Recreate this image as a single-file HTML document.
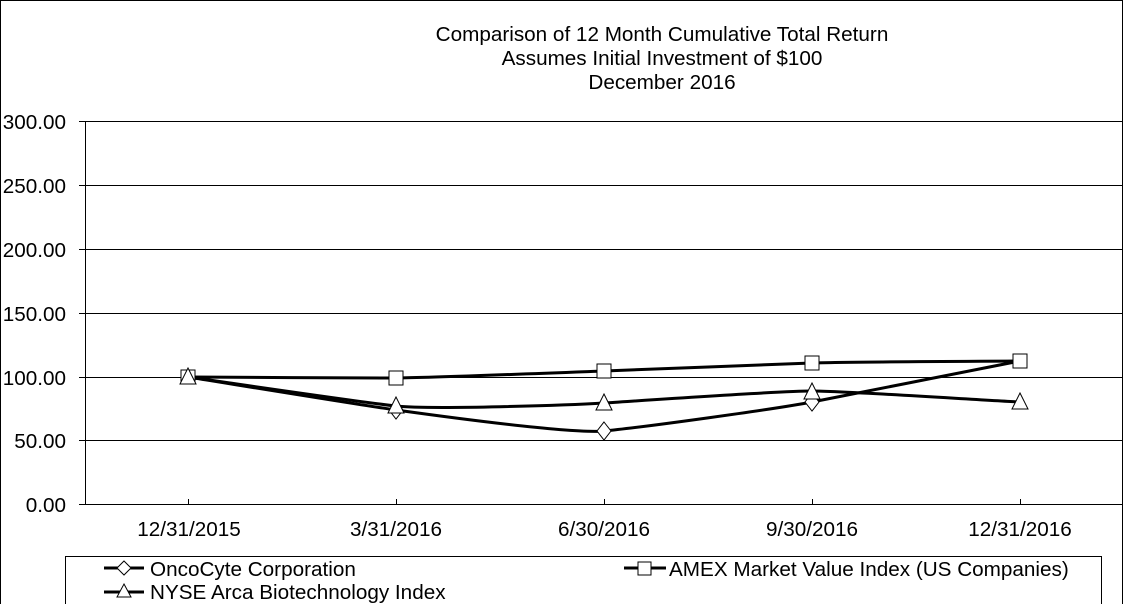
<!DOCTYPE html>
<html><head><meta charset="utf-8"><style>
body{margin:0;background:#fff}
svg{display:block;font-family:"Liberation Sans",Arial,sans-serif}
</style></head><body>
<svg width="1125" height="604" viewBox="0 0 1125 604" xmlns="http://www.w3.org/2000/svg">
<rect x="0.5" y="0.5" width="1122" height="610" fill="#fff" stroke="#000" stroke-width="1"/>
<g font-size="20.7" text-anchor="middle" fill="#000">
<text x="662" y="41">Comparison of 12 Month Cumulative Total Return</text>
<text x="662" y="65">Assumes Initial Investment of $100</text>
<text x="662" y="89">December 2016</text>
</g>
<g stroke="#000" stroke-width="1">
<line x1="79" y1="121.5" x2="1122" y2="121.5"/>
<line x1="79" y1="185.5" x2="1122" y2="185.5"/>
<line x1="79" y1="249.5" x2="1122" y2="249.5"/>
<line x1="79" y1="313.5" x2="1122" y2="313.5"/>
<line x1="79" y1="377.5" x2="1122" y2="377.5"/>
<line x1="79" y1="440.5" x2="1122" y2="440.5"/>
<line x1="79" y1="504.5" x2="1122" y2="504.5"/>
<line x1="85.5" y1="121" x2="85.5" y2="504"/>
<line x1="188.5" y1="499" x2="188.5" y2="504"/>
<line x1="396.5" y1="499" x2="396.5" y2="504"/>
<line x1="604.5" y1="499" x2="604.5" y2="504"/>
<line x1="812.5" y1="499" x2="812.5" y2="504"/>
<line x1="1020.5" y1="499" x2="1020.5" y2="504"/>
</g>
<g font-size="20.7" text-anchor="end">
<text x="66" y="129">300.00</text>
<text x="66" y="193">250.00</text>
<text x="66" y="257">200.00</text>
<text x="66" y="321">150.00</text>
<text x="66" y="385">100.00</text>
<text x="66" y="448">50.00</text>
<text x="66" y="512">0.00</text>
</g>
<g font-size="20.7" text-anchor="middle">
<text x="189" y="536">12/31/2015</text>
<text x="396" y="536">3/31/2016</text>
<text x="604" y="536">6/30/2016</text>
<text x="812" y="536">9/30/2016</text>
<text x="1020" y="536">12/31/2016</text>
</g>
<g fill="none" stroke="#000" stroke-width="3">
<path d="M188,377 C222.7,377 361.3,378.3 396,378 C430.7,377.7 569.3,372.3 604,371 C638.7,369.7 777.3,364.3 812,363 C846.7,361.7 985.3,361.3 1020,361"/>
<path d="M188,377 C222.7,381.8 361.3,402.3 396,406 C430.7,409.7 569.3,405.2 604,403 C638.7,400.8 777.3,391 812,391 C846.7,391 985.3,400.5 1020,402"/>
<path d="M188,377 C222.7,382.5 361.3,405.2 396,410 C430.7,414.8 569.3,434.2 604,431 C638.7,427.8 777.3,408.8 812,402 C846.7,395.2 985.3,367.8 1020,361"/>
</g>
<g fill="#fff" stroke="#000" stroke-width="1">
<rect x="181" y="370" width="14" height="14"/>
<rect x="389" y="371" width="14" height="14"/>
<rect x="597" y="364" width="14" height="14"/>
<rect x="805" y="356" width="14" height="14"/>
<rect x="1013" y="354" width="14" height="14"/>
<polygon points="396,401 403,410 396,419 389,410"/>
<polygon points="604,422 611,431 604,440 597,431"/>
<polygon points="812,393 819,402 812,411 805,402"/>
<polygon points="188,368 196,384 180,384"/>
<polygon points="396,397 404,413 388,413"/>
<polygon points="604,394 612,410 596,410"/>
<polygon points="812,383 820,399 804,399"/>
<polygon points="1020,393 1028,409 1012,409"/>
</g>
<path d="M65.5,610 V556.5 H1101.5 V610" fill="none" stroke="#000" stroke-width="1"/>
<g stroke="#000" stroke-width="3">
<line x1="104" y1="568" x2="144" y2="568"/>
<line x1="104" y1="592" x2="144" y2="592"/>
<line x1="624" y1="568" x2="666" y2="568"/>
</g>
<g fill="#fff" stroke="#000" stroke-width="1">
<polygon points="124,561 131,568 124,575 117,568"/>
<polygon points="124,584 131,597 117,597"/>
<rect x="638" y="562" width="13" height="13"/>
</g>
<g font-size="20.7">
<text x="150" y="576">OncoCyte Corporation</text>
<text x="150" y="599">NYSE Arca Biotechnology Index</text>
<text x="669" y="576">AMEX Market Value Index (US Companies)</text>
</g>
</svg>
</body></html>
